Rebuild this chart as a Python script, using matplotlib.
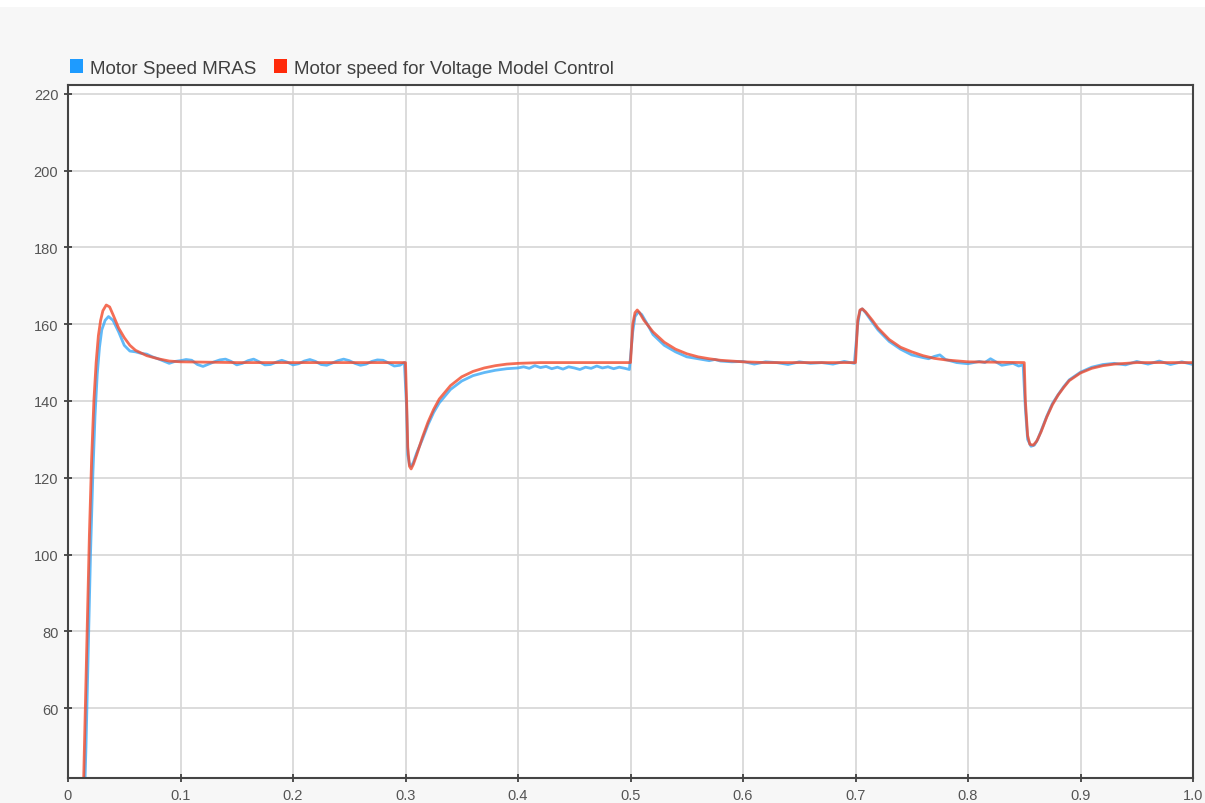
import matplotlib
matplotlib.use("Agg")
import matplotlib.pyplot as plt
from matplotlib.patches import Patch, Rectangle

plt.rcParams["font.family"] = ["Liberation Sans", "DejaVu Sans"]

# voltage model control speed (red)
t_vm = [0.0, 0.013, 0.015, 0.017, 0.019, 0.021, 0.023, 0.025, 0.027, 0.029, 0.031, 0.034,
        0.037, 0.040, 0.045, 0.050, 0.055, 0.060, 0.070, 0.080, 0.090, 0.100, 0.150, 0.300,
        0.301, 0.302, 0.3035, 0.305, 0.307, 0.310, 0.315, 0.320, 0.325, 0.330, 0.340, 0.350,
        0.360, 0.370, 0.380, 0.390, 0.400, 0.420, 0.500,
        0.502, 0.504, 0.506, 0.508, 0.512, 0.520, 0.530, 0.540, 0.550, 0.560, 0.570, 0.580,
        0.600, 0.620, 0.700,
        0.702, 0.704, 0.706, 0.709, 0.715, 0.720, 0.730, 0.740, 0.750, 0.760, 0.770, 0.780,
        0.800, 0.850,
        0.851, 0.853, 0.855, 0.858, 0.861, 0.865, 0.870, 0.875, 0.880, 0.885, 0.890, 0.900,
        0.910, 0.920, 0.930, 0.950, 1.000]
w_vm = [0.0, 30.0, 55.0, 80.0, 105.0, 125.0, 140.0, 150.0, 157.0, 161.0, 163.5, 165.0,
        164.5, 162.5, 159.0, 156.5, 154.5, 153.2, 151.8, 151.0, 150.4, 150.2, 150.0, 150.0,
        140.0, 128.0, 123.0, 122.3, 123.5, 126.0, 130.5, 134.5, 137.8, 140.5, 144.0, 146.3,
        147.7, 148.6, 149.2, 149.6, 149.8, 150.0, 150.0,
        160.0, 163.0, 163.7, 163.0, 161.0, 158.0, 155.3, 153.5, 152.3, 151.5, 151.0, 150.6,
        150.2, 150.0, 150.0,
        161.0, 163.7, 164.0, 163.2, 161.0, 159.0, 156.0, 154.0, 152.8, 151.8, 151.1, 150.7,
        150.2, 150.0,
        140.0, 131.0, 128.7, 128.5, 129.5, 132.0, 135.8, 139.0, 141.5, 143.5, 145.3, 147.3,
        148.5, 149.2, 149.6, 150.0, 150.0]

# MRAS estimated speed (blue)
t_mras = [0.0, 0.014, 0.016, 0.018, 0.020, 0.022, 0.024, 0.026, 0.028, 0.030, 0.033, 0.036,
          0.040, 0.045, 0.050, 0.055, 0.060, 0.065, 0.070, 0.075, 0.080, 0.085, 0.090, 0.095,
          0.100, 0.105, 0.110, 0.115, 0.120, 0.125, 0.130, 0.135, 0.140, 0.145, 0.150, 0.155,
          0.160, 0.165, 0.170, 0.175, 0.180, 0.185, 0.190, 0.195, 0.200, 0.205, 0.210, 0.215,
          0.220, 0.225, 0.230, 0.235, 0.240, 0.245, 0.250, 0.255, 0.260, 0.265, 0.270, 0.275,
          0.280, 0.285, 0.290, 0.295, 0.299,
          0.301, 0.302, 0.3035, 0.305, 0.307, 0.310, 0.315, 0.320, 0.325, 0.330, 0.340, 0.350,
          0.360, 0.370, 0.380, 0.390, 0.400, 0.405, 0.410, 0.415, 0.420, 0.425, 0.430, 0.435,
          0.440, 0.445, 0.450, 0.455, 0.460, 0.465, 0.470, 0.475, 0.480, 0.485, 0.490, 0.495,
          0.499,
          0.502, 0.504, 0.507, 0.510, 0.515, 0.520, 0.530, 0.540, 0.550, 0.560, 0.570, 0.575,
          0.580, 0.590, 0.600, 0.610, 0.620, 0.630, 0.640, 0.650, 0.660, 0.670, 0.680, 0.690,
          0.699,
          0.702, 0.704, 0.706, 0.709, 0.715, 0.720, 0.730, 0.740, 0.750, 0.760, 0.765, 0.770,
          0.775, 0.780, 0.790, 0.800, 0.810, 0.815, 0.820, 0.830, 0.840, 0.845, 0.849,
          0.851, 0.853, 0.856, 0.859, 0.862, 0.866, 0.870, 0.875, 0.880, 0.885, 0.890, 0.900,
          0.910, 0.920, 0.930, 0.940, 0.950, 0.960, 0.970, 0.980, 0.990, 1.000]
w_mras = [0.0, 30.0, 50.0, 75.0, 100.0, 120.0, 136.0, 147.0, 154.0, 158.5, 161.0, 162.0,
          161.0, 158.0, 154.5, 153.0, 152.8, 152.4, 152.2, 151.5, 151.0, 150.4, 149.8, 150.3,
          150.5, 150.8, 150.6, 149.5, 149.0, 149.6, 150.2, 150.7, 150.9, 150.3, 149.4, 149.8,
          150.5, 150.9, 150.2, 149.4, 149.5, 150.1, 150.6, 150.1, 149.4, 149.7, 150.4, 150.8,
          150.3, 149.5, 149.3, 149.9, 150.5, 150.9, 150.5, 149.8, 149.3, 149.6, 150.3, 150.7,
          150.6, 149.9, 149.1, 149.3, 150.0,
          138.0, 126.0, 123.5, 123.0, 124.0, 126.5, 130.0, 133.8, 137.0, 139.5, 143.0, 145.2,
          146.6, 147.4, 148.0, 148.4, 148.6, 148.9, 148.5, 149.2, 148.7, 149.0, 148.4, 148.8,
          148.3, 148.9, 148.6, 148.2, 148.8, 148.5, 149.1, 148.6, 148.9, 148.4, 148.8, 148.5,
          148.2,
          158.0, 162.0, 163.2, 162.5, 160.0, 157.3, 154.5, 152.8, 151.5, 151.0, 150.5, 150.8,
          150.4, 150.2, 150.3, 149.6, 150.2, 150.0, 149.5, 150.2, 149.8, 150.0, 149.6, 150.3,
          149.8,
          160.0, 163.5, 164.0, 163.0, 160.5, 158.5, 155.5, 153.5, 152.0, 151.3, 151.0, 151.6,
          152.0, 150.8, 150.0, 149.7, 150.3, 150.0, 151.0, 149.3, 149.8, 149.1, 149.4,
          138.0, 130.0, 128.2, 128.5, 130.0, 133.0, 136.0, 139.3, 141.6, 143.7, 145.5, 147.5,
          148.8, 149.5, 149.8, 149.4, 150.3, 149.6, 150.4, 149.5, 150.2, 149.5]

blue = "#3aa8f5"
red = "#f24a2c"

fig = plt.figure(figsize=(12.05, 8.04), dpi=100, facecolor="#f7f7f7")
fig.patches.append(Rectangle((0, 1 - 8 / 804), 1, 8 / 804, transform=fig.transFigure,
                             facecolor="white", edgecolor="none"))
ax = fig.add_axes([68 / 1205, 25 / 804, (1193 - 68) / 1205, (779 - 86) / 804])
ax.set_facecolor("white")

ax.plot(t_mras, w_mras, color=blue, lw=2.0, alpha=0.8)
ax.plot(t_vm, w_vm, color=red, lw=2.0, alpha=0.8)

ax.set_xlim(0, 1.0)
ax.set_ylim(41.8, 222.3)
ax.set_xticks([0, 0.1, 0.2, 0.3, 0.4, 0.5, 0.6, 0.7, 0.8, 0.9, 1.0])
ax.set_xticklabels(["0", "0.1", "0.2", "0.3", "0.4", "0.5", "0.6", "0.7", "0.8", "0.9", "1.0"])
ax.set_yticks(range(60, 221, 20))
ax.grid(True, color="#d6d6d6", lw=1.2)
ax.set_axisbelow(True)
ax.tick_params(direction="inout", length=6, width=1.2, color="#333333",
               labelcolor="#555555", labelsize=10.5, pad=4)
for s in ax.spines.values():
    s.set_color("#444444")
    s.set_linewidth(1.5)

handles = [Patch(facecolor="#1e9bff", edgecolor="none"),
           Patch(facecolor="#ff2a0a", edgecolor="none")]
fig.legend(handles, ["Motor Speed MRAS", "Motor speed for Voltage Model Control"],
           loc="center left", bbox_to_anchor=(53 / 1205, 1 - 69 / 804), ncol=2,
           frameon=False, fontsize=13.5, handlelength=0.7, handleheight=0.7,
           handletextpad=0.4, columnspacing=0.9, labelcolor="#404040")

fig.savefig("out.png", dpi=100, facecolor=fig.get_facecolor())
